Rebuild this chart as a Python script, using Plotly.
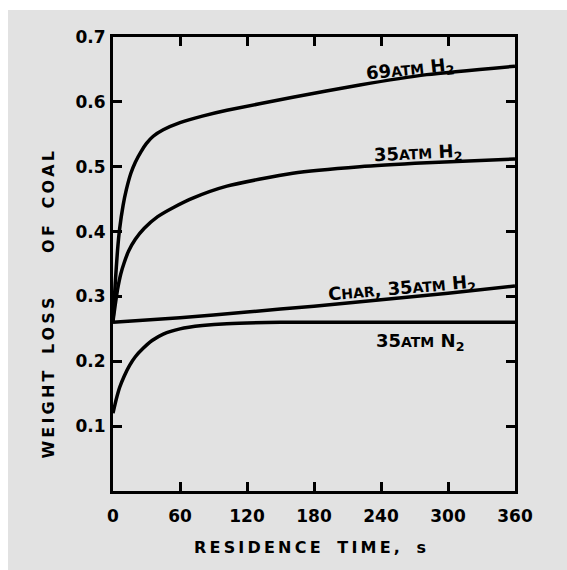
import plotly.graph_objects as go

# Data (residence time in s, weight-loss fraction)
t_69h2 = [0, 2, 4, 6, 9, 12, 16, 20, 25, 30, 36, 45, 60, 80, 102, 161, 221, 281, 360]
w_69h2 = [0.262, 0.32, 0.37, 0.405, 0.44, 0.465, 0.49, 0.507, 0.523, 0.536, 0.547, 0.557, 0.568, 0.578, 0.587, 0.607, 0.626, 0.642, 0.655]

t_35h2 = [0, 2, 4, 7, 10, 14, 20, 28, 40, 55, 72, 102, 161, 221, 281, 360]
w_35h2 = [0.262, 0.287, 0.31, 0.335, 0.352, 0.37, 0.388, 0.405, 0.423, 0.438, 0.452, 0.47, 0.49, 0.50, 0.506, 0.512]

t_char = [0, 60, 120, 180, 240, 300, 360]
w_char = [0.26, 0.267, 0.276, 0.285, 0.295, 0.305, 0.316]

t_35n2 = [0, 3, 6, 10, 15, 20, 27, 35, 45, 60, 80, 102, 150, 360]
w_35n2 = [0.12, 0.142, 0.16, 0.177, 0.194, 0.207, 0.22, 0.232, 0.242, 0.25, 0.255, 0.258, 0.26, 0.26]

x_ticks = [0, 60, 120, 180, 240, 300, 360]
y_ticks = [0.1, 0.2, 0.3, 0.4, 0.5, 0.6, 0.7]
y_ticktext = ["0.1", "0.2", "0.3", "0.4", "0.5", "0.6", "0.7"]

SM = "<span style='font-size:14px'>"
labels = [
    (f"69{SM}ATM</span> H<sub>2</sub>", 266, 0.649, -6),
    (f"35{SM}ATM</span> H<sub>2</sub>", 273, 0.519, -3),
    (f"C{SM}HAR</span>, 35{SM}ATM</span> H<sub>2</sub>", 259, 0.311, -5),
    (f"35{SM}ATM</span> N<sub>2</sub>", 275, 0.230, 0),
]

FONT = "DejaVu Sans"
TS = "\u2009"


def spaced(s):
    return "   ".join(TS.join(w) for w in s.split(" "))


fig = go.Figure()
for tx, wy in [(t_69h2, w_69h2), (t_35h2, w_35h2), (t_char, w_char), (t_35n2, w_35n2)]:
    fig.add_trace(go.Scatter(x=tx, y=wy, mode="lines",
                             line=dict(color="black", width=3.5, shape="spline", smoothing=0.6),
                             showlegend=False, hoverinfo="skip"))

for txt, lx, ly, ang in labels:
    fig.add_annotation(x=lx, y=ly, xref="x", yref="y", text=txt, showarrow=False,
                       textangle=ang, font=dict(family=FONT, size=18, color="black", weight="bold"))

fig.add_annotation(x=0.49, y=-0.125, xref="paper", yref="paper", yanchor="middle",
                   text=spaced("RESIDENCE TIME, s"), showarrow=False,
                   font=dict(family=FONT, size=16, color="black", weight="bold"))
fig.add_annotation(x=-0.16, y=0.41, xref="paper", yref="paper", xanchor="center",
                   text=spaced("WEIGHT LOSS") + "        " + spaced("OF COAL"),
                   showarrow=False, textangle=-90,
                   font=dict(family=FONT, size=16, color="black", weight="bold"))

# scanned-page grey background with the thin white border at top/left
fig.add_shape(type="rect", xref="paper", yref="paper", x0=(8 - 113) / 402, x1=1.2,
              y0=-0.2, y1=(491 - 10) / 454, fillcolor="#e2e2e2", line=dict(width=0), layer="below")

fig.update_xaxes(range=[0, 360], tickvals=x_ticks, ticks="inside", ticklen=9, tickwidth=2.5,
                 tickcolor="black", showline=True, linecolor="black", linewidth=3, mirror="ticks",
                 showgrid=False, zeroline=False, ticklabelstandoff=8,
                 tickfont=dict(family=FONT, size=17, color="black", weight="bold"))
fig.update_yaxes(range=[0, 0.7], tickvals=y_ticks, ticktext=y_ticktext, ticks="inside", ticklen=9,
                 tickwidth=2.5, tickcolor="black", showline=True, linecolor="black", linewidth=3,
                 mirror="ticks", showgrid=False, zeroline=False, ticklabelstandoff=1,
                 tickfont=dict(family=FONT, size=17, color="black", weight="bold"))

fig.update_layout(width=567, height=570, margin=dict(l=113, r=52, t=37, b=79),
                  paper_bgcolor="white", plot_bgcolor="rgba(0,0,0,0)")
fig.write_html("out.html")
